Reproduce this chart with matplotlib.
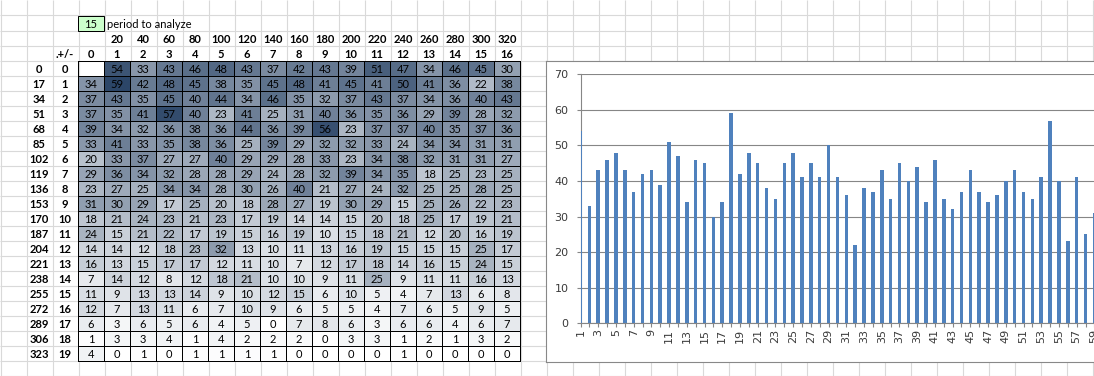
import numpy as np
import matplotlib.pyplot as plt
from matplotlib.colors import LinearSegmentedColormap
from matplotlib.patches import Rectangle

# spreadsheet values
period = 15
col_steps = [20, 40, 60, 80, 100, 120, 140, 160, 180, 200, 220, 240, 260, 280, 300, 320]
col_index = list(range(17))
row_index = list(range(20))
row_offsets = [0, 17, 34, 51, 68, 85, 102, 119, 136, 153, 170, 187, 204, 221, 238, 255, 272, 289, 306, 323]
nan = np.nan
counts = [
    [nan, 54, 33, 43, 46, 48, 43, 37, 42, 43, 39, 51, 47, 34, 46, 45, 30],
    [34, 59, 42, 48, 45, 38, 35, 45, 48, 41, 45, 41, 50, 41, 36, 22, 38],
    [37, 43, 35, 45, 40, 44, 34, 46, 35, 32, 37, 43, 37, 34, 36, 40, 43],
    [37, 35, 41, 57, 40, 23, 41, 25, 31, 40, 36, 35, 36, 29, 39, 28, 32],
    [39, 34, 32, 36, 38, 36, 44, 36, 39, 56, 23, 37, 37, 40, 35, 37, 36],
    [33, 41, 33, 35, 38, 36, 25, 39, 29, 32, 32, 33, 24, 34, 34, 31, 31],
    [20, 33, 37, 27, 27, 40, 29, 29, 28, 33, 23, 34, 38, 32, 31, 31, 27],
    [29, 36, 34, 32, 28, 28, 29, 24, 28, 32, 39, 34, 35, 18, 25, 23, 25],
    [23, 27, 25, 34, 34, 28, 30, 26, 40, 21, 27, 24, 32, 25, 25, 28, 25],
    [31, 30, 29, 17, 25, 20, 18, 28, 27, 19, 30, 29, 15, 25, 26, 22, 23],
    [18, 21, 24, 23, 21, 23, 17, 19, 14, 14, 15, 20, 18, 25, 17, 19, 21],
    [24, 15, 21, 22, 17, 19, 15, 16, 19, 10, 15, 18, 21, 12, 20, 16, 19],
    [14, 14, 12, 18, 23, 32, 13, 10, 11, 13, 16, 19, 15, 15, 15, 25, 17],
    [16, 13, 15, 17, 17, 12, 11, 10, 7, 12, 17, 18, 14, 16, 15, 24, 15],
    [7, 14, 12, 8, 12, 18, 21, 10, 10, 9, 11, 25, 9, 11, 11, 16, 13],
    [11, 9, 13, 13, 14, 9, 10, 12, 15, 6, 10, 5, 4, 7, 13, 6, 8],
    [12, 7, 13, 11, 6, 7, 10, 9, 6, 5, 5, 4, 7, 6, 5, 9, 5],
    [6, 3, 6, 5, 6, 4, 5, 0, 7, 8, 6, 3, 6, 6, 4, 6, 7],
    [1, 3, 3, 4, 1, 4, 2, 2, 2, 0, 3, 3, 1, 2, 1, 3, 2],
    [4, 0, 1, 0, 1, 1, 1, 1, 0, 0, 0, 0, 1, 0, 0, 0, 0],
]
# the chart plots the table cells read row by row
bar_values = [v for row in counts[:4] for v in row if not np.isnan(v)]
bar_cats = list(range(1, len(bar_values) + 1))

W, H = 1094, 376
COLW, ROWH = 26, 15


def fig_rect(x0, y0, x1, y1):
    return [x0 / W, 1 - y1 / H, (x1 - x0) / W, (y1 - y0) / H]


fig = plt.figure(figsize=(W / 100, H / 100), dpi=100)
fig.patch.set_facecolor('white')

# sheet gridlines
ax_bg = fig.add_axes([0, 0, 1, 1])
ax_bg.set_xlim(0, W)
ax_bg.set_ylim(H, 0)
ax_bg.axis('off')
ax_bg.vlines(np.arange(0.5, W, COLW), 0, H, color='#d9d9d9', lw=0.8)
ax_bg.hlines([15, 30.5, 46] + list(61 + ROWH * np.arange(22)), 0, W, color='#d9d9d9', lw=0.8)

# heatmap table
tfont = dict(family='Lato', fontsize=8, color='black')
cmap = LinearSegmentedColormap.from_list('scale', ['#ffffff', '#2c4668'])
ax_t = fig.add_axes(fig_rect(78, 61, 78 + 17 * COLW, 61 + 20 * ROWH))
data = np.ma.masked_invalid(np.array(counts, dtype=float))
ax_t.set_facecolor('white')
mesh = ax_t.pcolormesh(np.arange(-0.5, 17), np.arange(-0.5, 20), data, cmap=cmap,
                       vmin=0, vmax=59, edgecolors='black', linewidth=0.72)
mesh.set_clip_on(False)
ax_t.set_xlim(-0.5, 16.5)
ax_t.set_ylim(19.5, -0.5)
ax_t.axis('off')
for i, row in enumerate(counts):
    for j, v in enumerate(row):
        if not np.isnan(v):
            ax_t.text(j, i + 0.05, str(int(v)), ha='center', va='center', **tfont)
    ax_t.text(-1, i + 0.05, str(row_index[i]), ha='center', va='center', fontweight='bold', **tfont)
    ax_t.text(-2, i + 0.05, str(row_offsets[i]), ha='center', va='center', fontweight='bold', **tfont)
for j, s in enumerate(col_steps):
    ax_t.text(j + 1, -2 + 0.05, str(s), ha='center', va='center', fontweight='bold', **tfont)
for j in col_index:
    ax_t.text(j, -1 + 0.05, str(j), ha='center', va='center', fontweight='bold', **tfont)
ax_t.text(-1, -1 + 0.05, '.+/-', ha='center', va='center', fontweight='bold', **tfont)
ax_t.add_patch(Rectangle((-0.5, -3.5), 1, 1, facecolor='#ccffcc', edgecolor='black',
                         lw=0.72, clip_on=False))
ax_t.text(0, -3 + 0.05, str(period), ha='center', va='center', **tfont)
ax_t.text(0.62, -3 + 0.05, 'period to analyze', ha='left', va='center', **tfont)

# chart area
ax_box = fig.add_axes(fig_rect(546, 60.5, 1300, 361.5))
ax_box.set_facecolor('white')
ax_box.set_xticks([])
ax_box.set_yticks([])
for s in ax_box.spines.values():
    s.set_color('#888888')
    s.set_linewidth(0.8)

# bar chart, one category = 8.86 px, first bar sits on the axis
step = 8.86
xmax = 64
ax_c = fig.add_axes(fig_rect(580.5, 74.3, 580.5 + step * (xmax - 1), 323.3))
ax_c.patch.set_alpha(0)
ax_c.bar(bar_cats, bar_values, width=0.4, color='#4f81bd', zorder=3)
ax_c.set_yticks(range(0, 71, 10))
ax_c.set_xticks(bar_cats)
ax_c.set_xticklabels([str(c) if c % 2 == 1 else '' for c in bar_cats], rotation=90)
ax_c.set_xlim(1, xmax)
ax_c.set_ylim(0, 70)
ax_c.yaxis.grid(True, color='#868686', lw=0.8)
ax_c.set_axisbelow(True)
for side in ['top', 'right']:
    ax_c.spines[side].set_visible(False)
for side in ['left', 'bottom']:
    ax_c.spines[side].set_color('#868686')
    ax_c.spines[side].set_linewidth(0.8)
ax_c.tick_params(axis='y', direction='out', length=2.6, color='#868686', pad=6,
                 labelsize=8, labelcolor='#3a3a3a')
ax_c.tick_params(axis='x', direction='out', length=2.6, color='#868686', pad=1.5,
                 labelsize=8, labelcolor='#3a3a3a')

fig.savefig('out.png', dpi=100)
